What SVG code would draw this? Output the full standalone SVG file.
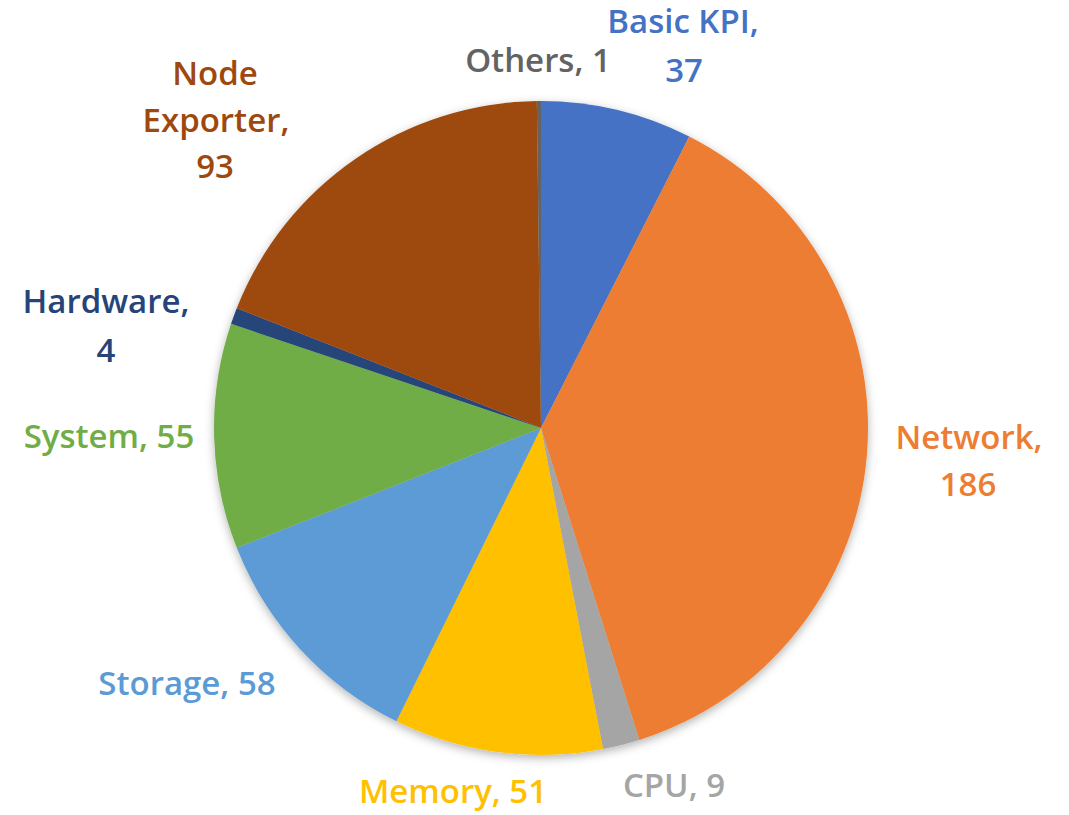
<svg xmlns="http://www.w3.org/2000/svg" width="1069" height="815" viewBox="0 0 1069 815">
<style>
.lbl{font-family:"Open Sans","Noto Sans","Liberation Sans",sans-serif;font-weight:600;font-size:33px;text-anchor:middle}
</style>
<defs>
<filter id="sh" x="-10%" y="-10%" width="120%" height="120%">
<feDropShadow dx="0" dy="3" stdDeviation="5" flood-color="#000" flood-opacity="0.3"/>
</filter>
</defs>
<rect width="1069" height="815" fill="#fff"/>
<g id="pie" filter="url(#sh)">
<g id="basic-kpi"><path d="M541,428 L541,101 A327,327 0 0 1 689.28,136.55 Z" fill="#4472C4"/></g>
<g id="network"><path d="M541,428 L689.28,136.55 A327,327 0 0 1 639.29,739.88 Z" fill="#ED7D31"/></g>
<g id="cpu"><path d="M541,428 L639.29,739.88 A327,327 0 0 1 603.01,749.07 Z" fill="#A5A5A5"/></g>
<g id="memory"><path d="M541,428 L603.01,749.07 A327,327 0 0 1 396.44,721.31 Z" fill="#FFC000"/></g>
<g id="storage"><path d="M541,428 L396.44,721.31 A327,327 0 0 1 236.75,547.85 Z" fill="#5B9BD5"/></g>
<g id="system"><path d="M541,428 L236.75,547.85 A327,327 0 0 1 231.04,323.80 Z" fill="#70AD47"/></g>
<g id="hardware"><path d="M541,428 L231.04,323.80 A327,327 0 0 1 236.75,308.15 Z" fill="#264478"/></g>
<g id="node-exporter"><path d="M541,428 L236.75,308.15 A327,327 0 0 1 536.84,101.03 Z" fill="#9E480E"/></g>
<g id="others"><path d="M541,428 L536.84,101.03 A327,327 0 0 1 541,101 Z" fill="#636363"/></g>
</g>
<g id="labels" class="lbl">
<text x="683" y="33" fill="#4472C4">Basic KPI,</text>
<text x="684" y="82" fill="#4472C4">37</text>
<text x="538" y="72" fill="#636363">Others, 1</text>
<text x="215" y="85" fill="#9E480E">Node</text>
<text x="216" y="132" fill="#9E480E">Exporter,</text>
<text x="215" y="178" fill="#9E480E">93</text>
<text x="106" y="313" fill="#264478">Hardware,</text>
<text x="106" y="362" fill="#264478">4</text>
<text x="109" y="448" fill="#70AD47">System, 55</text>
<text x="969" y="449" fill="#ED7D31">Network,</text>
<text x="968" y="496" fill="#ED7D31">186</text>
<text x="187" y="695" fill="#5B9BD5">Storage, 58</text>
<text x="453" y="803" fill="#FFC000">Memory, 51</text>
<text x="674" y="797" fill="#A5A5A5">CPU, 9</text>
</g>
</svg>
